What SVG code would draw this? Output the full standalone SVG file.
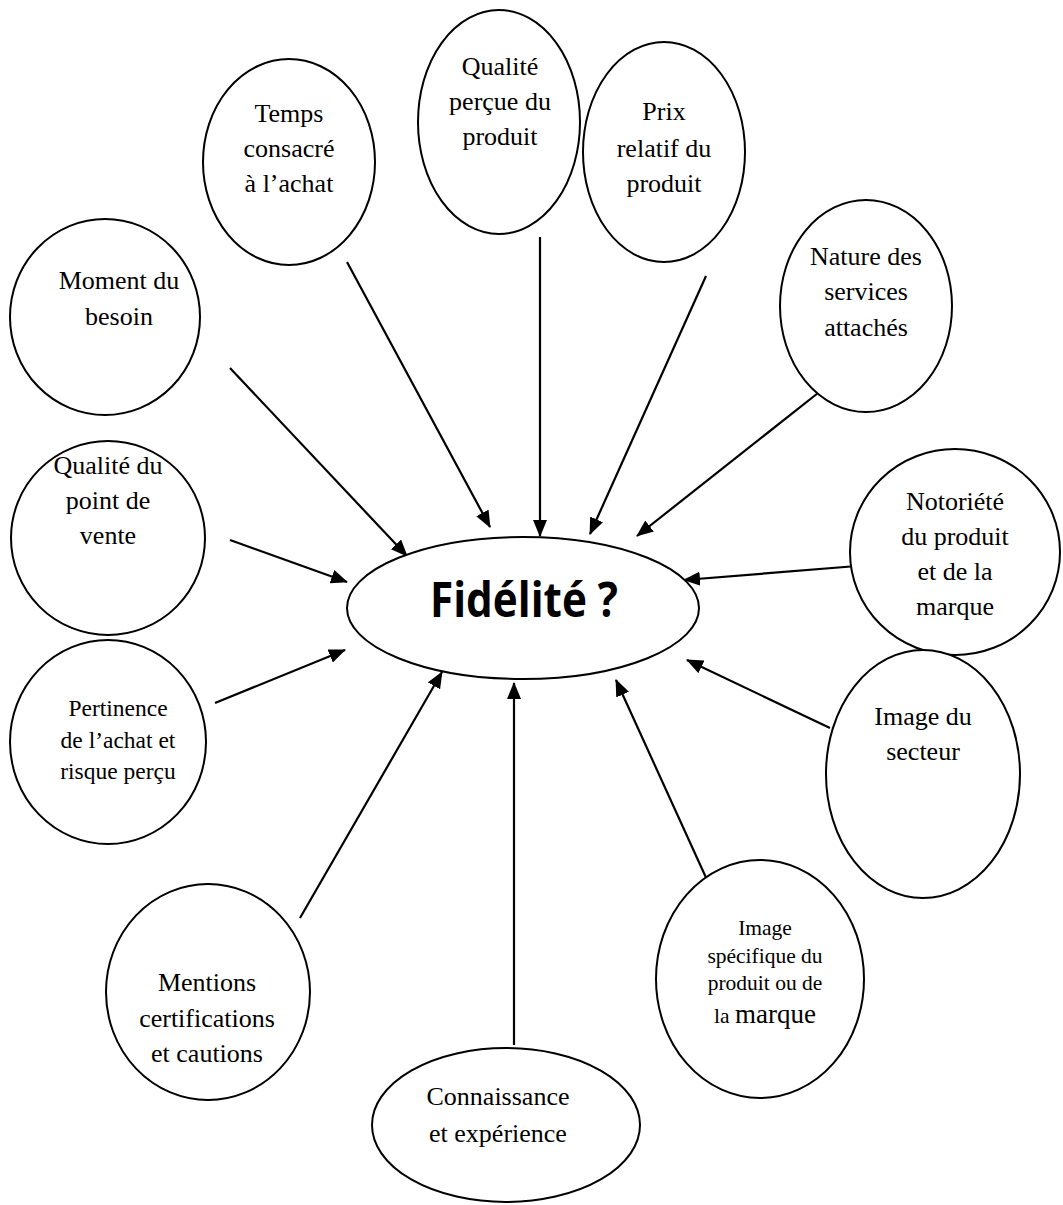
<svg xmlns="http://www.w3.org/2000/svg" width="1063" height="1205" viewBox="0 0 1063 1205">
<style>
.n ellipse{fill:#fff;stroke:#000;stroke-width:2}
.t{font-family:"Liberation Serif","Times New Roman",serif;font-size:26px;fill:#000;text-anchor:middle}
.c line{stroke:#000;stroke-width:2.2;marker-end:url(#ah)}
.f{font-family:"Open Sans","Liberation Sans",sans-serif;font-weight:bold;font-size:49px;text-anchor:middle;fill:#000}
</style>
<defs>
<marker id="ah" markerUnits="userSpaceOnUse" markerWidth="18" markerHeight="14" refX="16" refY="7" orient="auto">
<path d="M0,0 L17,7 L0,14 Z" fill="#000"/>
</marker>
</defs>
<rect width="1063" height="1205" fill="#fff"/>
<g id="connectors" class="c">
<line x1="230" y1="368" x2="407" y2="556"/>
<line x1="347" y1="262" x2="490" y2="527"/>
<line x1="540" y1="237" x2="540" y2="536"/>
<line x1="706" y1="276" x2="590" y2="534"/>
<line x1="818" y1="393" x2="637" y2="536"/>
<line x1="857" y1="566" x2="684" y2="580"/>
<line x1="830" y1="728" x2="687" y2="660"/>
<line x1="708" y1="882" x2="616" y2="680"/>
<line x1="514" y1="1045" x2="514" y2="683"/>
<line x1="300" y1="918" x2="442" y2="672"/>
<line x1="215" y1="703" x2="345" y2="650"/>
<line x1="230" y1="540" x2="347" y2="582"/>
</g>
<g id="fidelite" class="n"><ellipse cx="523" cy="608" rx="176" ry="71"/><text class="f" x="524" y="617" textLength="188" lengthAdjust="spacingAndGlyphs">Fidélité ?</text></g>
<g id="moment" class="n"><ellipse cx="105" cy="317" rx="95" ry="98"/><text class="t" x="119" y="289">Moment du</text><text class="t" x="119" y="325">besoin</text></g>
<g id="temps" class="n"><ellipse cx="289" cy="162" rx="86" ry="103"/><text class="t" x="289" y="122">Temps</text><text class="t" x="289" y="157">consacré</text><text class="t" x="289" y="192">à l’achat</text></g>
<g id="qualite-percue" class="n"><ellipse cx="499" cy="122" rx="81" ry="112"/><text class="t" x="500" y="75">Qualité</text><text class="t" x="500" y="110">perçue du</text><text class="t" x="500" y="145">produit</text></g>
<g id="prix" class="n"><ellipse cx="664" cy="152" rx="81" ry="110"/><text class="t" x="664" y="120">Prix</text><text class="t" x="664" y="157">relatif du</text><text class="t" x="664" y="192">produit</text></g>
<g id="nature" class="n"><ellipse cx="866" cy="306" rx="86" ry="106"/><text class="t" x="866" y="265">Nature des</text><text class="t" x="866" y="300">services</text><text class="t" x="866" y="336">attachés</text></g>
<g id="notoriete" class="n"><ellipse cx="955" cy="552" rx="105" ry="103"/><text class="t" x="955" y="510">Notoriété</text><text class="t" x="955" y="545">du produit</text><text class="t" x="955" y="580">et de la</text><text class="t" x="955" y="615">marque</text></g>
<g id="image-secteur" class="n"><ellipse cx="923" cy="774" rx="97" ry="124"/><text class="t" x="923" y="725">Image du</text><text class="t" x="923" y="760">secteur</text></g>
<g id="image-specifique" class="n"><ellipse cx="760" cy="979" rx="104" ry="119"/><text class="t" x="765" y="935" style="font-size:21.5px">Image</text><text class="t" x="765" y="963" style="font-size:21.5px">spécifique du</text><text class="t" x="765" y="990" style="font-size:21.5px">produit ou de</text><text class="t" x="765" y="1023"><tspan style="font-size:21.5px">la </tspan><tspan style="font-size:27px">marque</tspan></text></g>
<g id="connaissance" class="n"><ellipse cx="506" cy="1125" rx="134" ry="77"/><text class="t" x="498" y="1105">Connaissance</text><text class="t" x="498" y="1142">et expérience</text></g>
<g id="mentions" class="n"><ellipse cx="208" cy="992" rx="102" ry="108"/><text class="t" x="207" y="991">Mentions</text><text class="t" x="207" y="1027">certifications</text><text class="t" x="207" y="1062">et cautions</text></g>
<g id="pertinence" class="n"><ellipse cx="108" cy="742" rx="98" ry="102"/><text class="t" x="118" y="716" style="font-size:23.5px">Pertinence</text><text class="t" x="118" y="748" style="font-size:23.5px">de l’achat et</text><text class="t" x="118" y="779" style="font-size:23.5px">risque perçu</text></g>
<g id="qualite-point" class="n"><ellipse cx="108" cy="538" rx="97" ry="97"/><text class="t" x="108" y="474">Qualité du</text><text class="t" x="108" y="509">point de</text><text class="t" x="108" y="544">vente</text></g>
</svg>
